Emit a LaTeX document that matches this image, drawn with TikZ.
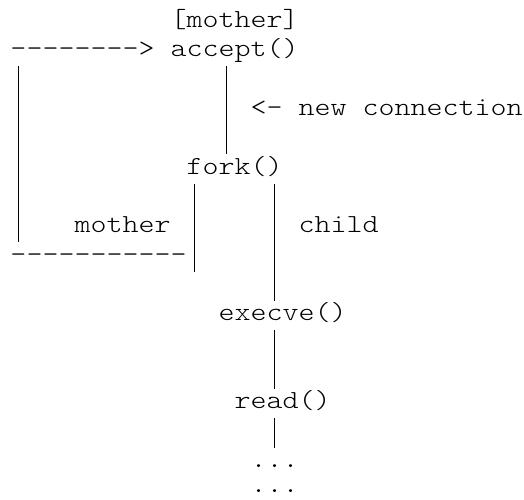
\documentclass[tikz,border=0pt]{standalone}
\usepackage{fontspec}
\setmonofont{lmmonolt10-regular.otf}
\usepackage{graphicx}
\newcommand{\asc}[1]{\scalebox{1.1722}[1]{#1}}
\tikzset{
  txt/.style={anchor=base west, inner sep=0pt, outer sep=0pt,
    font=\fontsize{26}{29}\selectfont\ttfamily, text=black},
  bar/.style={line width=1.3pt, draw=black},
}
% column c left edge: 10.5+16c ; row r baseline: 27.4+29.35r
\begin{document}
\begin{tikzpicture}[x=1pt,y={(0pt,-1pt)}]
\useasboundingbox (0,0) rectangle (524,499);
% text rows
\node[txt] (mtag)    at ({10.5+16*10},{27.4+29.35*0})  {\asc{[mother]}};
\node[txt] (arrow)   at ({10.5+16*0}, {27.4+29.35*1})  {\asc{-------->}};
\node[txt] (accept)  at ({10.5+16*10},{27.4+29.35*1})  {\asc{accept()}};
\node[txt] (newconn) at ({10.5+16*15},{27.4+29.35*3})  {\asc{<- new connection}};
\node[txt] (fork)    at ({10.5+16*11},{27.4+29.35*5})  {\asc{fork()}};
\node[txt] (lmother) at ({10.5+16*4}, {27.4+29.35*7})  {\asc{mother}};
\node[txt] (lchild)  at ({10.5+16*18},{27.4+29.35*7})  {\asc{child}};
\node[txt] (ret)     at ({10.5+16*0}, {27.4+29.35*8})  {\asc{-----------}};
\node[txt] (execve)  at ({10.5+16*13},{27.4+29.35*10}) {\asc{execve()}};
\node[txt] (read)    at ({10.5+16*14},{27.4+29.35*13}) {\asc{read()}};
\node[txt] (dotsa)   at ({10.5+16*15},{467})           {\asc{...}};
\node[txt] (dotsb)   at ({10.5+16*15},{492})           {\asc{...}};
% bar ends: row r spans baseline-20 .. baseline+9.35
\coordinate (loopT)  at ({18.5+16*0}, {27.4+29.35*2-20});
\coordinate (loopB)  at ({18.5+16*0}, {27.4+29.35*7+9.35});
\coordinate (accB)   at ({18.5+16*13},{27.4+29.35*2-20});
\coordinate (forkT)  at ({18.5+16*13},{27.4+29.35*4+9.35});
\coordinate (momT)   at ({18.5+16*11},{27.4+29.35*6-20});
\coordinate (momB)   at ({18.5+16*11},{27.4+29.35*8+9.35});
\coordinate (kidT)   at ({18.5+16*16},{27.4+29.35*6-20});
\coordinate (execT)  at ({18.5+16*16},{27.4+29.35*9+9.35});
\coordinate (execB)  at ({18.5+16*16},{27.4+29.35*11-20});
\coordinate (readT)  at ({18.5+16*16},{27.4+29.35*12+9.35});
\coordinate (readB)  at ({18.5+16*16},{27.4+29.35*14-20});
\coordinate (dotsT)  at ({18.5+16*16},{27.4+29.35*14+9.35});
\draw[bar] (loopT) -- (loopB);
\draw[bar] (accB) -- (forkT);
\draw[bar] (momT) -- (momB);
\draw[bar] (kidT) -- (execT);
\draw[bar] (execB) -- (readT);
\draw[bar] (readB) -- (dotsT);
\end{tikzpicture}
\end{document}
